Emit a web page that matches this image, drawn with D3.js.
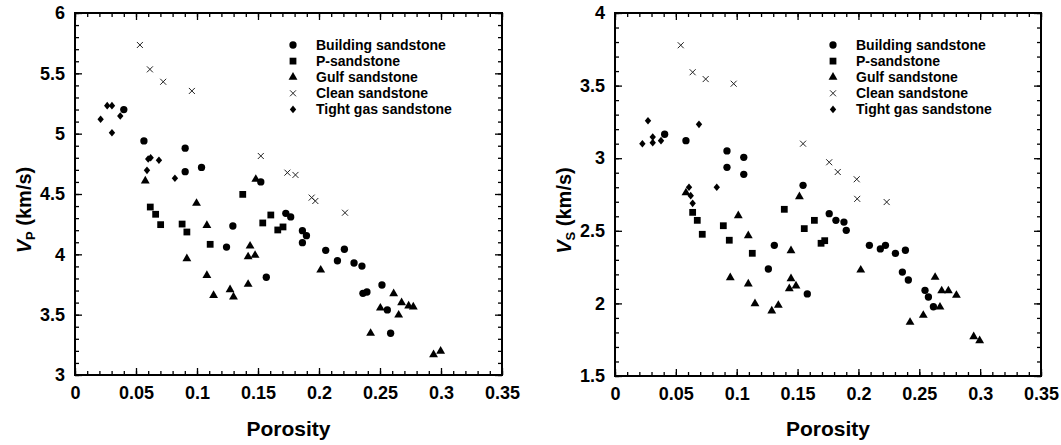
<!DOCTYPE html>
<html lang="en">
  <head>
    <meta charset="UTF-8" />
    <script src="https://d3js.org/d3.v7.min.js"></script>
    <title>Vp Vs porosity</title>
    <style>
      body { margin: 0; background: #fff; }
      svg text {
        font-family: "Liberation Sans Narrow", "Arial Narrow", sans-serif;
        font-weight: bold;
        fill: #000;
      }
    </style>
  </head>
  <body>
    <div id="chart"></div>
    <script>
      // series names (legend order)
      const seriesNames = [
        "Building sandstone",
        "P-sandstone",
        "Gulf sandstone",
        "Clean sandstone",
        "Tight gas sandstone",
      ];

      // [porosity, Vp (km/s)]
      const buildingVp = [
        [0.040, 5.20], [0.0565, 4.94], [0.0903, 4.88], [0.0903, 4.685], [0.1037, 4.72],
        [0.1523, 4.60], [0.1294, 4.235], [0.1242, 4.06], [0.1568, 3.81], [0.1728, 4.34],
        [0.1768, 4.31], [0.1864, 4.196], [0.1897, 4.155], [0.1864, 4.097], [0.2055, 4.033],
        [0.2208, 4.042], [0.2151, 3.947], [0.2287, 3.928], [0.2352, 3.903], [0.2516, 3.746],
        [0.2360, 3.677], [0.2393, 3.688], [0.256, 3.539], [0.2587, 3.346],
      ];
      const pSandVp = [
        [0.1375, 4.497], [0.0617, 4.392], [0.0661, 4.332], [0.0702, 4.246], [0.0878, 4.251],
        [0.0917, 4.185], [0.1108, 4.083], [0.1539, 4.26], [0.1605, 4.326], [0.1662, 4.202],
        [0.1705, 4.227],
      ];
      const gulfVp = [
        [0.0576, 4.608], [0.1482, 4.622], [0.0996, 4.423], [0.1081, 4.24], [0.0917, 3.964],
        [0.1081, 3.826], [0.1136, 3.66], [0.1271, 3.707], [0.1299, 3.647], [0.1419, 3.752],
        [0.1419, 3.98], [0.1435, 4.069], [0.1476, 3.992], [0.2014, 3.87], [0.2612, 3.674],
        [0.2677, 3.60], [0.2735, 3.572], [0.2773, 3.564], [0.2503, 3.555], [0.2653, 3.497],
        [0.2423, 3.346], [0.2939, 3.168], [0.2997, 3.197],
      ];
      const cleanVp = [
        [0.0532, 5.735], [0.0614, 5.533], [0.0723, 5.43], [0.0958, 5.354], [0.1523, 4.815],
        [0.1741, 4.677], [0.1807, 4.658], [0.194, 4.47], [0.197, 4.442], [0.2213, 4.345],
      ];
      const tightVp = [
        [0.021, 5.12], [0.0264, 5.232], [0.0303, 5.232], [0.0303, 5.008], [0.0371, 5.146],
        [0.060, 4.79], [0.062, 4.80], [0.0688, 4.78], [0.059, 4.696], [0.0819, 4.63],
      ];

      // [porosity, Vs (km/s)]
      const buildingVs = [
        [0.0408, 3.165], [0.0583, 3.121], [0.092, 3.05], [0.092, 2.937], [0.1058, 3.006],
        [0.1058, 2.889], [0.1545, 2.813], [0.1309, 2.40], [0.126, 2.237], [0.158, 2.065],
        [0.176, 2.618], [0.1815, 2.572], [0.1881, 2.56], [0.19, 2.503], [0.209, 2.40],
        [0.218, 2.375], [0.2222, 2.40], [0.2304, 2.345], [0.2386, 2.366], [0.2361, 2.216],
        [0.241, 2.161], [0.2547, 2.09], [0.2575, 2.044], [0.2616, 1.977],
      ];
      const pSandVs = [
        [0.0638, 2.627], [0.0676, 2.572], [0.0717, 2.476], [0.089, 2.535], [0.0939, 2.435],
        [0.1128, 2.345], [0.1391, 2.648], [0.1555, 2.515], [0.1638, 2.572], [0.1693, 2.414],
        [0.1723, 2.432],
      ];
      const gulfVs = [
        [0.0583, 2.762], [0.1515, 2.735], [0.1013, 2.604], [0.1095, 2.466], [0.1446, 2.363],
        [0.0947, 2.177], [0.1095, 2.134], [0.115, 1.998], [0.1288, 1.948], [0.1342, 1.987],
        [0.1446, 2.17], [0.1432, 2.101], [0.1487, 2.12], [0.2019, 2.23], [0.263, 2.18],
        [0.2684, 2.087], [0.2739, 2.087], [0.2805, 2.056], [0.267, 1.975], [0.2533, 1.918],
        [0.2424, 1.87], [0.2947, 1.771], [0.2996, 1.743],
      ];
      const cleanVs = [
        [0.054, 3.778], [0.0638, 3.592], [0.0745, 3.545], [0.0975, 3.513], [0.1545, 3.10],
        [0.176, 2.972], [0.183, 2.905], [0.1986, 2.855], [0.199, 2.72], [0.2232, 2.698],
      ];
      const tightVs = [
        [0.0271, 3.258], [0.0225, 3.10], [0.031, 3.146], [0.031, 3.107], [0.0378, 3.121],
        [0.069, 3.233], [0.0608, 2.80], [0.0622, 2.742], [0.0836, 2.80], [0.0638, 2.689],
      ];

      const xTicks = [0, 0.05, 0.1, 0.15, 0.2, 0.25, 0.3, 0.35];
      const vpTicks = [3, 3.5, 4, 4.5, 5, 5.5, 6];
      const vsTicks = [1.5, 2, 2.5, 3, 3.5, 4];

      const width = 1061, height = 445;
      const svg = d3
        .select("#chart")
        .append("svg")
        .attr("width", width)
        .attr("height", height);

      // marker paths
      const shapes = [
        d3.symbol(d3.symbolCircle, 42)(),
        d3.symbol(d3.symbolSquare, 46)(),
        d3.symbol(d3.symbolTriangle, 34)(),
        "M-3,-3L3,3M-3,3L3,-3",
        "M0,-3.8L3.2,0L0,3.8L-3.2,0Z",
      ];

      function drawMarks(g, data, i, x, y) {
        g.selectAll(null)
          .data(data)
          .join("path")
          .attr("transform", (d) => `translate(${x(d[0])},${y(d[1])})`)
          .attr("d", shapes[i])
          .attr("fill", i === 3 ? "none" : "#000")
          .attr("stroke", i === 3 ? "#222" : "none")
          .attr("stroke-width", 1);
      }

      function drawPanel(opt) {
        const x = d3.scaleLinear().domain([0, 0.35]).range([opt.left, opt.right]);
        const y = d3.scaleLinear().domain(opt.yDomain).range([opt.bottom, opt.top]);
        const g = svg.append("g");

        const minorX = d3.range(0, 0.3501, 0.01);
        const minorY = d3.range(opt.yDomain[0], opt.yDomain[1] + 0.001, 0.1);

        // minor ticks (inward, all four sides)
        g.append("g").attr("transform", `translate(0,${opt.bottom})`)
          .call(d3.axisBottom(x).tickValues(minorX).tickSize(-4).tickFormat(""));
        g.append("g").attr("transform", `translate(0,${opt.top})`)
          .call(d3.axisTop(x).tickValues(minorX).tickSize(-4).tickFormat(""));
        g.append("g").attr("transform", `translate(${opt.left},0)`)
          .call(d3.axisLeft(y).tickValues(minorY).tickSize(-4).tickFormat(""));
        g.append("g").attr("transform", `translate(${opt.right},0)`)
          .call(d3.axisRight(y).tickValues(minorY).tickSize(-4).tickFormat(""));

        // major ticks with labels
        const xAxis = g.append("g").attr("transform", `translate(0,${opt.bottom})`)
          .call(d3.axisBottom(x).tickValues(xTicks).tickSize(-7).tickPadding(11)
            .tickFormat((d) => (d === 0 ? "0" : d3.format("")(+d.toFixed(2)))));
        g.append("g").attr("transform", `translate(0,${opt.top})`)
          .call(d3.axisTop(x).tickValues(xTicks).tickSize(-7).tickFormat(""));
        const yAxis = g.append("g").attr("transform", `translate(${opt.left},0)`)
          .call(d3.axisLeft(y).tickValues(opt.yTicks).tickSize(-7).tickPadding(10)
            .tickFormat((d) => d3.format("")(d)));
        g.append("g").attr("transform", `translate(${opt.right},0)`)
          .call(d3.axisRight(y).tickValues(opt.yTicks).tickSize(-7).tickFormat(""));

        g.selectAll(".domain").remove();
        g.selectAll(".tick line").attr("stroke", "#000").attr("stroke-width", 1.3);
        xAxis.selectAll("text").style("font-size", "18px");
        yAxis.selectAll("text").style("font-size", "18px");

        // frame
        g.append("rect")
          .attr("x", opt.left).attr("y", opt.top)
          .attr("width", opt.right - opt.left).attr("height", opt.bottom - opt.top)
          .attr("fill", "none").attr("stroke", "#000").attr("stroke-width", 2);

        // axis titles
        g.append("text")
          .attr("x", (opt.left + opt.right) / 2).attr("y", 436)
          .attr("text-anchor", "middle").style("font-size", "21px")
          .text("Porosity");
        const yl = g.append("text")
          .attr("transform", `translate(${opt.left - 44},${(opt.top + opt.bottom) / 2 + 16}) rotate(-90)`)
          .attr("text-anchor", "middle").style("font-size", "20px");
        yl.append("tspan").style("font-style", "italic").text("V");
        yl.append("tspan").attr("dy", 4).style("font-size", "13px").text(opt.sub);
        yl.append("tspan").attr("dy", -4).text(" (km/s)");

        // marks
        opt.series.forEach((data, i) => drawMarks(g, data, i, x, y));

        // legend
        const lg = g.append("g").attr("transform", `translate(${opt.left},0)`);
        seriesNames.forEach((name, i) => {
          const ly = 45 + i * 16.1;
          lg.append("path")
            .attr("transform", `translate(218,${ly})`)
            .attr("d", shapes[i])
            .attr("fill", i === 3 ? "none" : "#000")
            .attr("stroke", i === 3 ? "#222" : "none");
          lg.append("text")
            .attr("x", 241).attr("y", ly).attr("dy", "0.36em")
            .style("font-size", "14px")
            .text(name);
        });
      }

      drawPanel({
        left: 75, right: 502, top: 13, bottom: 375,
        yDomain: [3, 6], yTicks: vpTicks, sub: "P",
        series: [buildingVp, pSandVp, gulfVp, cleanVp, tightVp],
      });
      drawPanel({
        left: 615, right: 1041, top: 13, bottom: 376,
        yDomain: [1.5, 4], yTicks: vsTicks, sub: "S",
        series: [buildingVs, pSandVs, gulfVs, cleanVs, tightVs],
      });
    </script>
  </body>
</html>
